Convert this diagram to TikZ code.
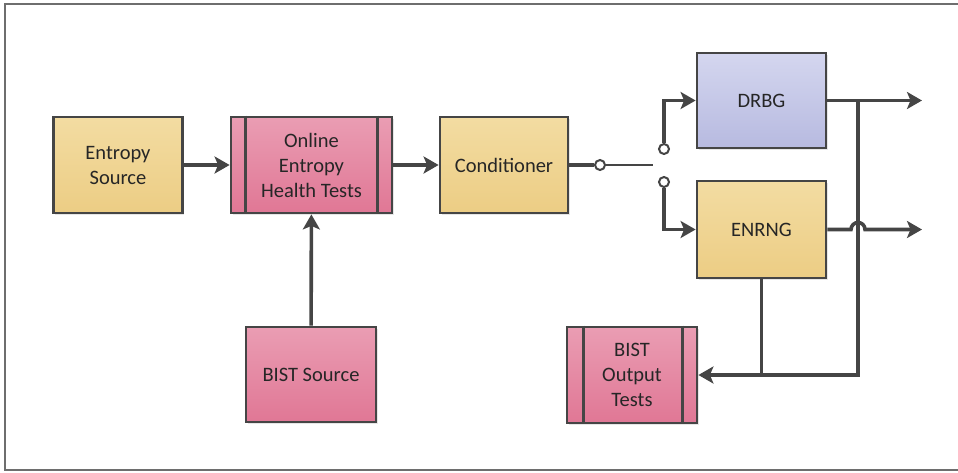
\documentclass[tikz,border=0pt]{standalone}
\usepackage{fontspec}
\setmainfont{Carlito}
\usetikzlibrary{arrows.meta,calc,shadows}
\definecolor{bord}{HTML}{454545}
\definecolor{txt}{HTML}{262626}
\definecolor{yelT}{HTML}{F3DCA2}
\definecolor{yelB}{HTML}{ECCD84}
\definecolor{pinkT}{HTML}{EA9DB3}
\definecolor{pinkB}{HTML}{E07795}
\definecolor{lavT}{HTML}{D4D6EF}
\definecolor{lavB}{HTML}{B7BAE0}
\definecolor{framec}{HTML}{6E6E6E}
\begin{document}
\begin{tikzpicture}[x=1pt,y=-1pt,
  box/.style={draw=bord, line width=2.8pt, align=center, text=txt, inner sep=0pt,
    font=\fontsize{20.5}{25}\selectfont,
    drop shadow={opacity=0.2, shadow xshift=1.5pt, shadow yshift=-1.5pt}},
  yel/.style={box, top color=yelT, bottom color=yelB},
  pink/.style={box, top color=pinkT, bottom color=pinkB},
  lav/.style={box, top color=lavT, bottom color=lavB},
  conn/.style={draw=bord, line width=3.6pt},
  arr/.style={conn, -{Stealth[length=15pt,width=17pt,inset=3.5pt]}},
  thinl/.style={draw=bord, line width=1.6pt},
  term/.style={circle, draw=bord, fill=white, line width=2pt, inner sep=0pt, minimum size=10pt},
  frm/.style={draw=framec, line width=2.2pt}]
\useasboundingbox (0,0) rectangle (958,472);
\draw[frm] (965,4) -- (5,4) -- (5,470) -- (965,470);

\node[yel, minimum width=129pt, minimum height=96pt] (es) at (118,165) {Entropy\\Source};
\node[pink, minimum width=161pt, minimum height=96pt] (on) at (311.5,165) {Online\\Entropy\\Health Tests};
\draw[bord, line width=2.8pt] ($(on.north west)+(16,0)$) -- ($(on.south west)+(16,0)$);
\draw[bord, line width=2.8pt] ($(on.north east)+(-16,0)$) -- ($(on.south east)+(-16,0)$);
\node[yel, minimum width=128pt, minimum height=96pt] (cd) at (504,165) {Conditioner};
\node[lav, minimum width=129pt, minimum height=95pt] (dr) at (761.5,100.5) {DRBG};
\node[yel, minimum width=129pt, minimum height=97pt] (en) at (761.5,229.5) {ENRNG};
\node[pink, minimum width=130pt, minimum height=95pt] (bs) at (311,374.5) {BIST Source};
\node[pink, minimum width=130pt, minimum height=96pt] (bo) at (632,375) {BIST\\Output\\Tests};
\draw[bord, line width=2.8pt] ($(bo.north west)+(18,0)$) -- ($(bo.south west)+(18,0)$);
\draw[bord, line width=2.8pt] ($(bo.north east)+(-16,0)$) -- ($(bo.south east)+(-16,0)$);

\draw[arr] (es) -- (on);
\draw[arr] (on) -- (cd);
\draw[arr] (bs) -- (on);

\node[term] (s1) at (600,165) {};
\coordinate (sw) at (653,165);
\node[term] (s2) at (664,149) {};
\node[term] (s3) at (664,182) {};
\draw[conn] (cd.east) -- (s1.west);
\draw[thinl] (s1.east) -- (sw);
\draw[arr] (s2.north) |- (dr.west);
\draw[arr] (s3.south) |- (en.west);

\coordinate (o1) at (922,100.5);
\coordinate (o2) at (922,229.5);
\coordinate (j1) at (858,100.5);
\draw[arr] (dr.east) -- (o1);
\draw[arr] (j1) |- (bo.east);
\draw[conn] (en.south) -- (en.south |- bo.east);
\draw[arr] (en.east) -- (851,229.5) arc (180:360:7) -- (o2);
\end{tikzpicture}
\end{document}
